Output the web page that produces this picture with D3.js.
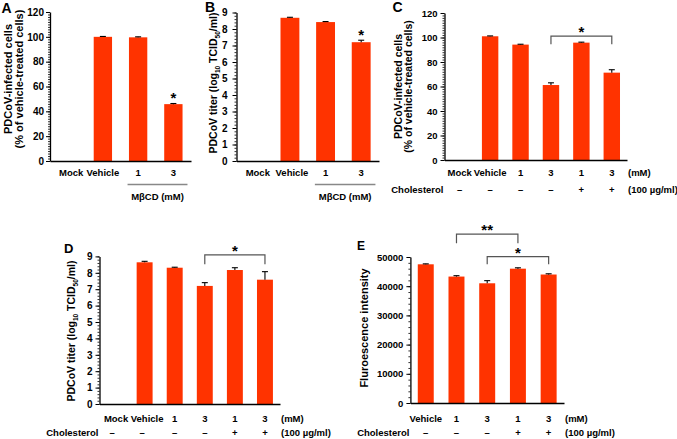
<!DOCTYPE html>
<html><head><meta charset="utf-8">
<script src="https://cdn.jsdelivr.net/npm/d3@7"></script>
<style>
body{margin:0;background:#fff}
svg{display:block}
text{font-family:"Liberation Sans",Arial,sans-serif;font-weight:bold;fill:#000}
</style>
</head><body>
<svg id="c" width="677" height="439"></svg>
<script>
// ---------- data ----------
const catsAB = ["Mock", "Vehicle", "1", "3"];
const valsA = [null, 100, 99.6, 45.8];
const errsA = [null, 0.3, 0.4, 0.5];
const valsB = [null, 8.68, 8.42, 7.2];
const errsB = [null, 0.03, 0.03, 0.12];
const catsCD = ["Mock", "Vehicle", "1", "3", "1", "3"];
const cholCD = ["\u2013", "\u2013", "\u2013", "\u2013", "+", "+"];
const valsC = [null, 101, 94.2, 61.2, 95.8, 71.3];
const errsC = [null, 0.3, 0.3, 1.8, 0.4, 2.4];
const valsD = [null, 8.64, 8.31, 7.2, 8.17, 7.58];
const errsD = [null, 0.06, 0.03, 0.2, 0.14, 0.49];
const catsE = ["Vehicle", "1", "3", "1", "3"];
const cholE = ["\u2013", "\u2013", "\u2013", "+", "+"];
const valsE = [47500, 43300, 41000, 46000, 44000];
const errsE = [150, 300, 900, 300, 250];
const ticksPct = [0, 20, 40, 60, 80, 100, 120];
const ticksTiter = [0, 1, 2, 3, 4, 5, 6, 7, 8, 9];
const ticksE = [0, 10000, 20000, 30000, 40000, 50000];
// significance: [fromIndex, toIndex, level, dropLevel, label]
const sigC = [[3, 5, 101.2, 94.4, "*"]];
const sigD = [[3, 5, 9.09, 8.52, "*"]];
const sigE = [[1, 3, 57800, 54700, "**"], [2, 4, 50100, 47500, "*"]];

const svg = d3.select("#c");
const FONT = '"Liberation Sans",Arial,sans-serif';
const RED = "#ff3300";

function panel(c) {
  const g = svg.append("g");
  const n = c.cats.length;
  const x = d3.scaleBand().domain(d3.range(n)).range([c.x0, c.x1])
    .paddingInner(c.pad).paddingOuter(c.pad / 2);
  const y = d3.scaleLinear().domain([0, c.max]).range([c.y0, c.y1]);
  const bw = x.bandwidth();
  const cx = i => x(i) + bw / 2;

  const rows = c.vals.map((v, i) => ({v, i, e: c.errs[i]})).filter(d => d.v != null);
  g.selectAll("rect.bar").data(rows).join("rect")
    .attr("x", d => x(d.i)).attr("width", bw)
    .attr("y", d => y(d.v)).attr("height", d => y(0) - y(d.v))
    .attr("fill", RED);
  // error bars (upper)
  g.selectAll("line.eb").data(rows).join("line")
    .attr("x1", d => cx(d.i)).attr("x2", d => cx(d.i))
    .attr("y1", d => y(d.v)).attr("y2", d => y(d.v + d.e))
    .attr("stroke", "#000").attr("stroke-width", 1.1);
  g.selectAll("line.cap").data(rows).join("line")
    .attr("x1", d => cx(d.i) - 3).attr("x2", d => cx(d.i) + 3)
    .attr("y1", d => y(d.v + d.e)).attr("y2", d => y(d.v + d.e))
    .attr("stroke", "#000").attr("stroke-width", 1.1);

  // minor ticks
  const minor = d3.range(0, c.max + c.minor / 2, c.minor);
  g.append("g").attr("transform", `translate(${c.x0},0)`)
    .call(d3.axisLeft(y).tickValues(minor).tickSize(2).tickSizeOuter(0).tickFormat(""))
    .call(s => s.select(".domain").remove())
    .selectAll("line").attr("stroke", "#333");
  // y axis
  const ya = g.append("g").attr("transform", `translate(${c.x0},0)`)
    .call(d3.axisLeft(y).tickValues(c.ticks).tickSize(4).tickSizeOuter(0).tickPadding(c.tpad).tickFormat(d3.format("d")));
  ya.attr("font-family", FONT).attr("font-size", c.tfs).attr("font-weight", "bold");
  ya.select(".domain").attr("stroke", "#000").attr("stroke-width", 1.3);
  ya.selectAll("line").attr("stroke", "#000");
  // x axis
  const xa = g.append("g").attr("transform", `translate(0,${c.y0})`)
    .call(d3.axisBottom(x).tickSize(0).tickSizeOuter(0).tickFormat(""));
  xa.select(".domain").attr("stroke", "#000").attr("stroke-width", 1.3);

  // category labels
  g.selectAll("text.cat").data(c.cats).join("text")
    .attr("x", (d, i) => cx(i) + (c.labShift ? c.labShift[i] : 0)).attr("y", c.lab1)
    .attr("text-anchor", "middle").attr("font-size", 9.5).text(d => d);
  if (c.mm) {
    g.append("text").attr("x", c.x1 + 1).attr("y", c.lab1).attr("font-size", 9.5).text("(mM)");
  }
  if (c.chol) {
    g.selectAll("text.ch").data(c.chol).join("text")
      .attr("x", (d, i) => cx(i) + (c.cholShift ? c.cholShift[i] : 0)).attr("y", c.lab2)
      .attr("text-anchor", "middle").attr("font-size", 9.5).text(d => d);
    g.append("text").attr("x", c.x0 - 1).attr("y", c.lab2).attr("text-anchor", "end")
      .attr("font-size", 9.5).text("Cholesterol");
    g.append("text").attr("x", c.x1 + 1).attr("y", c.lab2).attr("font-size", 9.5).text("(100 \u00b5g/ml)");
  }
  if (c.mbcd) {
    const st = x.step();
    const a = cx(2) - 0.3 * st, b = cx(3) + 0.4 * st;
    g.append("line").attr("x1", a).attr("x2", b).attr("y1", c.y0 + 23.5).attr("y2", c.y0 + 23.5)
      .attr("stroke", "#888").attr("stroke-width", 1.3);
    g.append("text").attr("x", (a + b) / 2).attr("y", c.y0 + 38.5).attr("text-anchor", "middle")
      .attr("font-size", 9.5).text("M\u03b2CD (mM)");
  }
  // single star
  if (c.star != null) {
    const i = c.star;
    g.append("text").attr("x", cx(i)).attr("y", y(c.vals[i] + c.errs[i]) - 0.5)
      .attr("text-anchor", "middle").attr("font-size", 15).attr("font-weight", "normal").text("*");
  }
  // brackets
  (c.sig || []).forEach(([a, b, lv, dr, lab]) => {
    const xa1 = cx(a), xb1 = cx(b), yl = y(lv), yd = y(dr);
    g.append("path").attr("d", `M${xa1},${yd}V${yl}H${xb1}V${yd}`)
      .attr("fill", "none").attr("stroke", "#555").attr("stroke-width", 1.2);
    g.append("text").attr("x", (xa1 + xb1) / 2).attr("y", yl - 8 + 8.8)
      .attr("text-anchor", "middle").attr("font-size", 15).attr("font-weight", "normal").text(lab);
  });
  // y title
  c.title.forEach(t => {
    const tx = g.append("text").attr("transform", `translate(${t.x},${t.y}) rotate(-90)`)
      .attr("text-anchor", "middle").attr("font-size", t.fs);
    t.parts.forEach(p => {
      const ts = tx.append("tspan").text(p[0]);
      if (p[1] === "sub") ts.attr("font-size", t.fs * 0.62).attr("dy", 2.5);
      if (p[1] === "up") ts.attr("dy", -2.5);
    });
  });
  // panel letter
  svg.append("text").attr("x", c.letter[1]).attr("y", c.letter[2]).attr("font-size", c.letter[3]).text(c.letter[0]);
}

const titerParts = [["PDCoV titer (log"], ["10", "sub"], [" TCID", "up"], ["50", "sub"], ["/ml)", "up"]];

panel({cats: catsAB, vals: valsA, errs: errsA, x0: 50, x1: 191, y0: 161, y1: 12, max: 120,
  pad: 0.48, ticks: ticksPct, minor: 2, tpad: 2, tfs: 10, lab1: 176, mbcd: true, star: 3,
  labShift: [3.5, 0, 0, 0],
  title: [{x: 12, y: 79, fs: 11, parts: [["PDCoV-infected cells"]]},
          {x: 22.5, y: 79, fs: 11, parts: [["(% of vehicle-treated cells)"]]}],
  letter: ["A", 1.5, 12.5, 14]});

panel({cats: catsAB, vals: valsB, errs: errsB, x0: 236.5, x1: 379, y0: 161, y1: 12.5, max: 9,
  pad: 0.47, ticks: ticksTiter, minor: 0.2, tpad: 5, tfs: 10, lab1: 176, mbcd: true, star: 3,
  labShift: [3.5, 2, 0, 0],
  title: [{x: 217, y: 83, fs: 10.5, parts: titerParts}],
  letter: ["B", 205, 12, 14]});

panel({cats: catsCD, vals: valsC, errs: errsC, x0: 444.5, x1: 627, y0: 160, y1: 13, max: 120,
  pad: 0.46, ticks: ticksPct, minor: 2, tpad: 3, tfs: 9.5, lab1: 176, lab2: 193, mm: true, chol: cholCD,
  sig: sigC,
  title: [{x: 402, y: 86.5, fs: 10.5, parts: [["PDCoV-infected cells"]]},
          {x: 411.5, y: 86.5, fs: 10.5, parts: [["(% of vehicle-treated cells)"]]}],
  letter: ["C", 392.5, 12, 14]});

panel({cats: catsCD, vals: valsD, errs: errsD, x0: 99.5, x1: 280, y0: 404, y1: 256.4, max: 9,
  pad: 0.47, ticks: ticksTiter, minor: 0.2, tpad: 3, tfs: 10, lab1: 421.5, lab2: 436, mm: true, chol: cholCD,
  labShift: [1.5, 2.5, 0, 0, 0, 0], cholShift: [-2.5, -2.5, 0, 0, 0, 0],
  sig: sigD,
  title: [{x: 75, y: 331, fs: 10.5, parts: titerParts}],
  letter: ["D", 64, 253, 13]});

panel({cats: catsE, vals: valsE, errs: errsE, x0: 410.4, x1: 564, y0: 403, y1: 257, max: 50000,
  pad: 0.48, ticks: ticksE, minor: 2000, tpad: 3, tfs: 9.5, lab1: 421.5, lab2: 436, mm: true, chol: cholE,
  sig: sigE,
  title: [{x: 368, y: 328, fs: 11, parts: [["Fluroescence intensity"]]}],
  letter: ["E", 357, 250, 12]});
</script>
</body></html>
